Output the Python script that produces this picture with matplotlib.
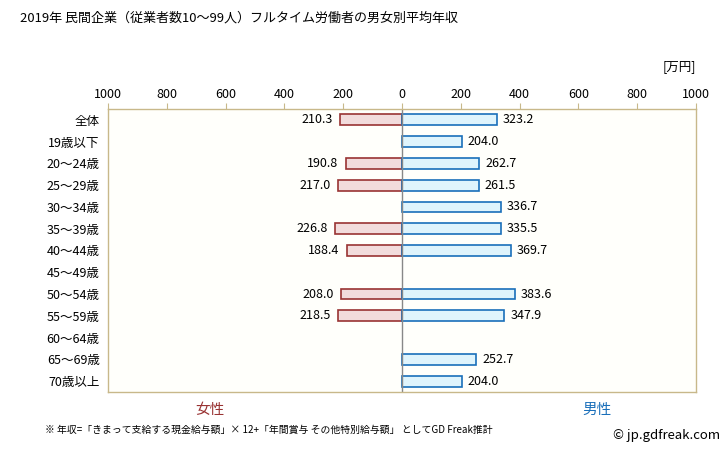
import numpy as np
import matplotlib
import matplotlib.pyplot as plt

matplotlib.use("Agg")
plt.rcParams['font.family'] = ['Noto Sans CJK JP', 'DejaVu Sans']

categories = ["全体", "19歳以下", "20〜24歳", "25〜29歳", "30〜34歳", "35〜39歳",
              "40〜44歳", "45〜49歳", "50〜54歳", "55〜59歳", "60〜64歳",
              "65〜69歳", "70歳以上"]
female = [210.3, np.nan, 190.8, 217.0, np.nan, 226.8, 188.4, np.nan,
          208.0, 218.5, np.nan, np.nan, np.nan]
male = [323.2, 204.0, 262.7, 261.5, 336.7, 335.5, 369.7, np.nan,
        383.6, 347.9, np.nan, 252.7, 204.0]
ticks = [-1000, -800, -600, -400, -200, 0, 200, 400, 600, 800, 1000]

f_face, f_edge = "#f2dcdc", "#993333"
m_face, m_edge = "#dff4fc", "#1a6fba"
frame = "#c8b88a"

fig = plt.figure(figsize=(7.28, 4.51), dpi=100)
ax = fig.add_axes((108/728, 1 - 392/451, 588/728, 283/451))
ax.set_facecolor("#fffffb")

y = np.arange(len(categories))
fv = np.array(female)
mv = np.array(male)
ax.barh(y, -fv, height=0.5, color=f_face, edgecolor=f_edge, linewidth=1.2)
ax.barh(y, mv, height=0.5, color=m_face, edgecolor=m_edge, linewidth=1.2)

for i in range(len(categories)):
    if not np.isnan(fv[i]):
        ax.text(-fv[i] - 25, y[i], f"{fv[i]:.1f}", ha="right", va="center", fontsize=9)
    if not np.isnan(mv[i]):
        ax.text(mv[i] + 20, y[i], f"{mv[i]:.1f}", ha="left", va="center", fontsize=9)

ax.axvline(0, color="#888888", linewidth=1)
ax.set_xlim(-1000, 1000)
ax.set_ylim(len(categories) - 0.5, -0.5)
ax.set_yticks(y)
ax.set_yticklabels(categories, fontsize=9)
ax.tick_params(axis="y", length=0, pad=6)
ax.set_xticks(ticks)
ax.set_xticklabels([str(abs(t)) for t in ticks], fontsize=9)
ax.xaxis.tick_top()
ax.tick_params(axis="x", length=4, color=frame, pad=2)
for s in ax.spines.values():
    s.set_color(frame)
    s.set_linewidth(1)

fig.text(20/728, 1 - 18/451, "2019年 民間企業（従業者数10〜99人）フルタイム労働者の男女別平均年収",
         fontsize=9.4, va="center", ha="left")
fig.text(696/728, 1 - 67/451, "[万円]", fontsize=9, va="center", ha="right")
fig.text(210/728, 1 - 410/451, "女性", fontsize=10.5, color=f_edge, ha="center", va="center")
fig.text(597/728, 1 - 410/451, "男性", fontsize=10.5, color=m_edge, ha="center", va="center")
fig.text(45/728, 1 - 430/451,
         "※ 年収=「きまって支給する現金給与額」× 12+「年間賞与 その他特別給与額」 としてGD Freak推計",
         fontsize=7.1, ha="left", va="center")
fig.text(720/728, 1 - 435/451, "© jp.gdfreak.com", fontsize=9.5, ha="right", va="center")

fig.savefig("out.png")
